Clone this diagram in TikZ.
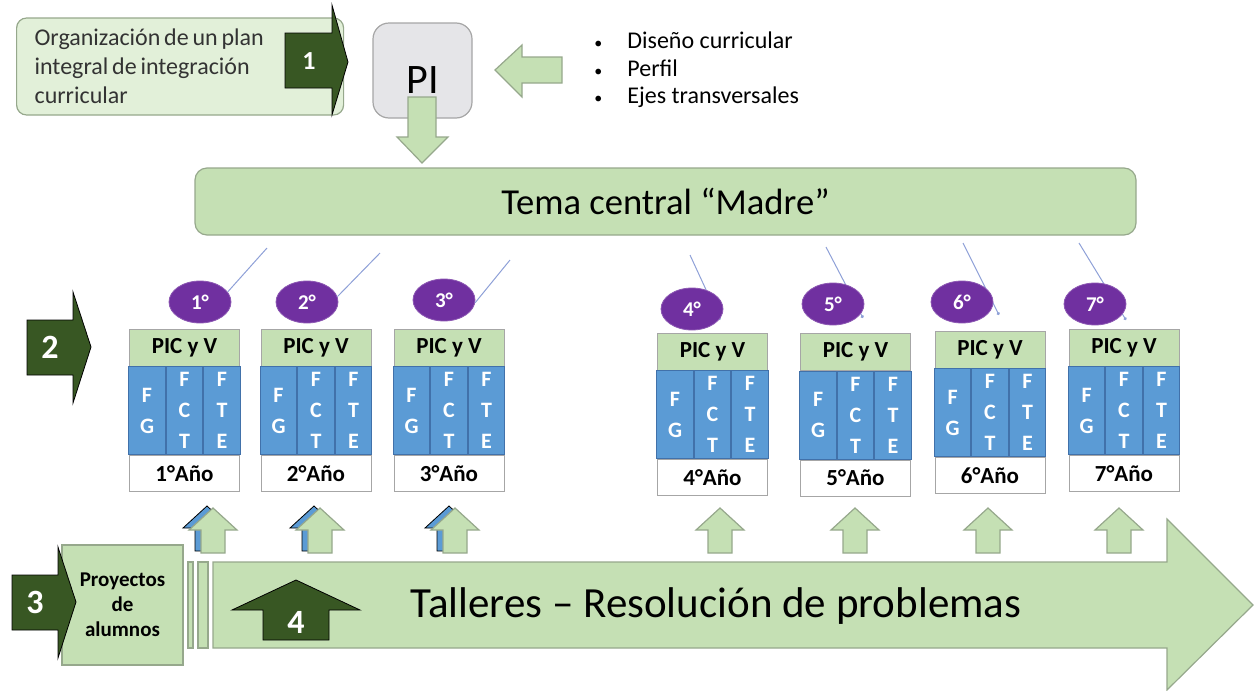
\documentclass[tikz,border=0pt]{standalone}
\usepackage{fontspec}
\setmainfont{Carlito}
\newfontfamily\tightfont{Carlito}[WordSpace=0.7]
\usepackage{tikz}
\usetikzlibrary{positioning,shapes.geometric,arrows.meta}
\definecolor{softgreen}{RGB}{197,224,180}
\definecolor{palegreen}{RGB}{226,240,217}
\definecolor{edgegreen}{RGB}{150,168,140}
\definecolor{deepgreen}{RGB}{56,87,35}
\definecolor{yearpurple}{RGB}{112,48,160}
\definecolor{fgblue}{RGB}{91,155,213}
\definecolor{fgline}{RGB}{65,113,170}
\definecolor{tiecolor}{RGB}{142,160,215}
\definecolor{pigray}{RGB}{229,229,232}
\pgfkeys{tikz/planbox/.style={draw=edgegreen, fill=palegreen, rounded corners=5pt,
                                  line width=0.6pt, anchor=west,
                                  minimum width=163.5pt, minimum height=48.5pt,
                                  text width=145.5pt, inner xsep=9pt, align=flush left,
                                  text=black!80, font=\tightfont\fontsize{12}{14.5}\selectfont}}
\pgfkeys{tikz/pibox/.style={draw=gray!70, fill=pigray, rounded corners=8pt, line width=0.6pt,
                                minimum width=49.5pt, minimum height=47.5pt}}
\pgfkeys{tikz/temabox/.style={draw=edgegreen, fill=softgreen, rounded corners=6pt, line width=0.6pt,
                                  minimum width=470.5pt, minimum height=33.5pt,
                                  font=\fontsize{18.3}{22}\selectfont}}
\pgfkeys{tikz/picbox/.style={draw=gray!70, fill=softgreen, minimum width=55pt, minimum height=18.5pt,
                                 inner sep=0pt, font=\bfseries\fontsize{11.5}{13}\selectfont}}
\pgfkeys{tikz/fgbox/.style={draw=fgline, fill=fgblue, line width=0.4pt,
                                minimum width=18.33pt, minimum height=44pt, inner sep=0pt,
                                align=center, text=white, font=\bfseries\fontsize{11}{15.5}\selectfont}}
\pgfkeys{tikz/yearbox/.style={draw=gray!70, fill=white, minimum width=55pt, minimum height=18pt,
                                  inner sep=0pt, font=\bfseries\fontsize{11.5}{13}\selectfont}}
\pgfkeys{tikz/yearball/.style={ellipse, fill=yearpurple, draw=yearpurple!80,
                                   minimum width=31pt, minimum height=21pt, inner sep=0pt,
                                   text=white, font=\bfseries\fontsize{10.5}{12}\selectfont}}
\pgfkeys{tikz/tieline/.style={draw=tiecolor, line width=0.5pt}}
\pgfkeys{tikz/darkarrow/.style={fill=deepgreen}}
\pgfkeys{tikz/lightarrow/.style={fill=softgreen, draw=edgegreen, line width=0.6pt}}
\pgfkeys{tikz/bluearrow/.style={fill=fgblue}}
\pgfkeys{tikz/numtext/.style={text=white, font=\bfseries\fontsize{17}{17}\selectfont}}

\begin{document}
\begin{tikzpicture}[x=0.5pt, y=-0.5pt]
                \useasboundingbox (0,0) rectangle (1259,691);

                % step 1: plan, PI and its sources
                \node[planbox] (plan) at (16,66.5) {Organización de un plan\\ integral de integración\\ curricular};
                \draw[darkarrow] (285,33) -- (332,33) -- (332,5) -- (348,62) -- (332,115) -- (332,88) -- (285,88) -- cycle;
                \node[numtext, font=\bfseries\fontsize{13}{13}\selectfont] (n1) at (309,61) {1};

                \node[pibox] (pi) at (422.5,70.5) {};
                \node[font=\fontsize{21}{22}\selectfont] (pitext) at (422.5,80) {PI};
                \draw[lightarrow] (408,97) -- (436,97) -- (436,137) -- (448,137) -- (422,163) -- (397,137) -- (408,137) -- cycle;
                \draw[lightarrow] (495,70) -- (522,45) -- (522,57) -- (562,57) -- (562,83) -- (522,83) -- (522,97) -- cycle;

                \node[anchor=west, inner sep=0pt, align=left, font=\fontsize{12}{13.75}\selectfont] (sources) at (594,70)
                    {\makebox[16.5pt][l]{\footnotesize\textbullet}Diseño curricular\\
                     \makebox[16.5pt][l]{\footnotesize\textbullet}Perfil\\
                     \makebox[16.5pt][l]{\footnotesize\textbullet}Ejes transversales};

                \node[temabox] (tema) at (665.5,201.5) {Tema central “Madre”};

                % step 2: the seven years
                \draw[darkarrow] (27,320) -- (73,320) -- (73,292) -- (91,347) -- (73,403) -- (73,375) -- (27,375) -- cycle;
                \node[numtext] (n2) at (50,347) {2};

                \coordinate (t1) at (267,248);
                \coordinate (t2) at (380,253);
                \coordinate (t3) at (510,260);
                \coordinate (t4) at (690,255);
                \coordinate (t5) at (826,247);
                \coordinate (t6) at (963,243);
                \coordinate (t7) at (1079,243);
                \coordinate (b4) at (720,320);
                \coordinate (b5) at (863,318);
                \coordinate (b6) at (999,315);
                \coordinate (b7) at (1126,320);

                \draw[tieline, -{Circle[length=1.6pt]}] (t4) -- (b4);
                \draw[tieline, -{Circle[length=1.6pt]}] (t5) -- (b5);
                \draw[tieline, -{Circle[length=1.6pt]}] (t6) -- (b6);
                \draw[tieline, -{Circle[length=1.6pt]}] (t7) -- (b7);

                \node[yearball] (e1) at (200,302) {1°};
                \node[yearball] (e2) at (307,302) {2°};
                \node[yearball] (e3) at (444,300) {3°};
                \node[yearball] (e4) at (692,309) {4°};
                \node[yearball] (e5) at (833,304) {5°};
                \node[yearball] (e6) at (962,302) {6°};
                \node[yearball] (e7) at (1095,304) {7°};

                \draw[tieline] (t1) -- (e1.20);
                \draw[tieline] (t2) -- (e2.10);
                \draw[tieline] (t3) -- (e3.-5);

                \node[picbox] (pic1) at (184.5,347.5) {PIC y V};
                \node[fgbox, below=0pt of pic1] (fct1) {F\\C\\T};
                \node[fgbox, left=0pt of fct1] (fg1) {F\\G};
                \node[fgbox, right=0pt of fct1] (fte1) {F\\T\\E};
                \node[yearbox, below=0pt of fct1] (year1) {1°Año};

                \node[picbox] (pic2) at (316,347.5) {PIC y V};
                \node[fgbox, below=0pt of pic2] (fct2) {F\\C\\T};
                \node[fgbox, left=0pt of fct2] (fg2) {F\\G};
                \node[fgbox, right=0pt of fct2] (fte2) {F\\T\\E};
                \node[yearbox, below=0pt of fct2] (year2) {2°Año};

                \node[picbox] (pic3) at (449,347.5) {PIC y V};
                \node[fgbox, below=0pt of pic3] (fct3) {F\\C\\T};
                \node[fgbox, left=0pt of fct3] (fg3) {F\\G};
                \node[fgbox, right=0pt of fct3] (fte3) {F\\T\\E};
                \node[yearbox, below=0pt of fct3] (year3) {3°Año};

                \node[picbox] (pic4) at (712.5,351.5) {PIC y V};
                \node[fgbox, below=0pt of pic4] (fct4) {F\\C\\T};
                \node[fgbox, left=0pt of fct4] (fg4) {F\\G};
                \node[fgbox, right=0pt of fct4] (fte4) {F\\T\\E};
                \node[yearbox, below=0pt of fct4] (year4) {4°Año};

                \node[picbox] (pic5) at (855.5,352) {PIC y V};
                \node[fgbox, below=0pt of pic5] (fct5) {F\\C\\T};
                \node[fgbox, left=0pt of fct5] (fg5) {F\\G};
                \node[fgbox, right=0pt of fct5] (fte5) {F\\T\\E};
                \node[yearbox, below=0pt of fct5] (year5) {5°Año};

                \node[picbox] (pic6) at (990,349.5) {PIC y V};
                \node[fgbox, below=0pt of pic6] (fct6) {F\\C\\T};
                \node[fgbox, left=0pt of fct6] (fg6) {F\\G};
                \node[fgbox, right=0pt of fct6] (fte6) {F\\T\\E};
                \node[yearbox, below=0pt of fct6] (year6) {6°Año};

                \node[picbox] (pic7) at (1124,347.5) {PIC y V};
                \node[fgbox, below=0pt of pic7] (fct7) {F\\C\\T};
                \node[fgbox, left=0pt of fct7] (fg7) {F\\G};
                \node[fgbox, right=0pt of fct7] (fte7) {F\\T\\E};
                \node[yearbox, below=0pt of fct7] (year7) {7°Año};

                % small arrows under the years
                \draw[bluearrow, shift={(207,551)}] (-12,0) -- (-12,-23) -- (-24,-23) -- (0,-45) -- (24,-23) -- (12,-23) -- (12,0) -- cycle;
                \draw[bluearrow, shift={(314,551)}] (-12,0) -- (-12,-23) -- (-24,-23) -- (0,-45) -- (24,-23) -- (12,-23) -- (12,0) -- cycle;
                \draw[bluearrow, shift={(449,551)}] (-12,0) -- (-12,-23) -- (-24,-23) -- (0,-45) -- (24,-23) -- (12,-23) -- (12,0) -- cycle;
                \draw[lightarrow, shift={(213,553)}] (-12,0) -- (-12,-23) -- (-24,-23) -- (0,-45) -- (24,-23) -- (12,-23) -- (12,0) -- cycle;
                \draw[lightarrow, shift={(320,553)}] (-12,0) -- (-12,-23) -- (-24,-23) -- (0,-45) -- (24,-23) -- (12,-23) -- (12,0) -- cycle;
                \draw[lightarrow, shift={(455,553)}] (-12,0) -- (-12,-23) -- (-24,-23) -- (0,-45) -- (24,-23) -- (12,-23) -- (12,0) -- cycle;
                \draw[lightarrow, shift={(720,553)}] (-12,0) -- (-12,-23) -- (-24,-23) -- (0,-45) -- (24,-23) -- (12,-23) -- (12,0) -- cycle;
                \draw[lightarrow, shift={(855,553)}] (-12,0) -- (-12,-23) -- (-24,-23) -- (0,-45) -- (24,-23) -- (12,-23) -- (12,0) -- cycle;
                \draw[lightarrow, shift={(988,553)}] (-12,0) -- (-12,-23) -- (-24,-23) -- (0,-45) -- (24,-23) -- (12,-23) -- (12,0) -- cycle;
                \draw[lightarrow, shift={(1119,553)}] (-12,0) -- (-12,-23) -- (-24,-23) -- (0,-45) -- (24,-23) -- (12,-23) -- (12,0) -- cycle;

                % steps 3 and 4
                \node[draw=edgegreen, fill=softgreen, line width=0.6pt, minimum width=60.5pt, minimum height=60pt,
                      align=center, font=\bfseries\fontsize{10.5}{12.5}\selectfont] (proy) at (122.5,605) {Proyectos\\de\\alumnos};
                \draw[darkarrow] (12,575) -- (58,575) -- (58,547) -- (76,602) -- (58,658) -- (58,630) -- (12,630) -- cycle;
                \node[numtext] (n3) at (35,602) {3};

                \draw[lightarrow] (188,562) rectangle (193,648);
                \draw[lightarrow] (198,562) rectangle (208,648);
                \draw[lightarrow] (213,562) -- (1167,562) -- (1167,519) -- (1253,605) -- (1167,690) -- (1167,648) -- (213,648) -- cycle;
                \node[font=\fontsize{21.5}{24}\selectfont] (talleres) at (716,606) {Talleres – Resolución de problemas};

                \draw[darkarrow] (263,640) -- (263,610) -- (232,610) -- (296,580) -- (360,610) -- (329,610) -- (329,640) -- cycle;
                \node[numtext] (n4) at (296,622) {4};

            \end{tikzpicture}
\end{document}
